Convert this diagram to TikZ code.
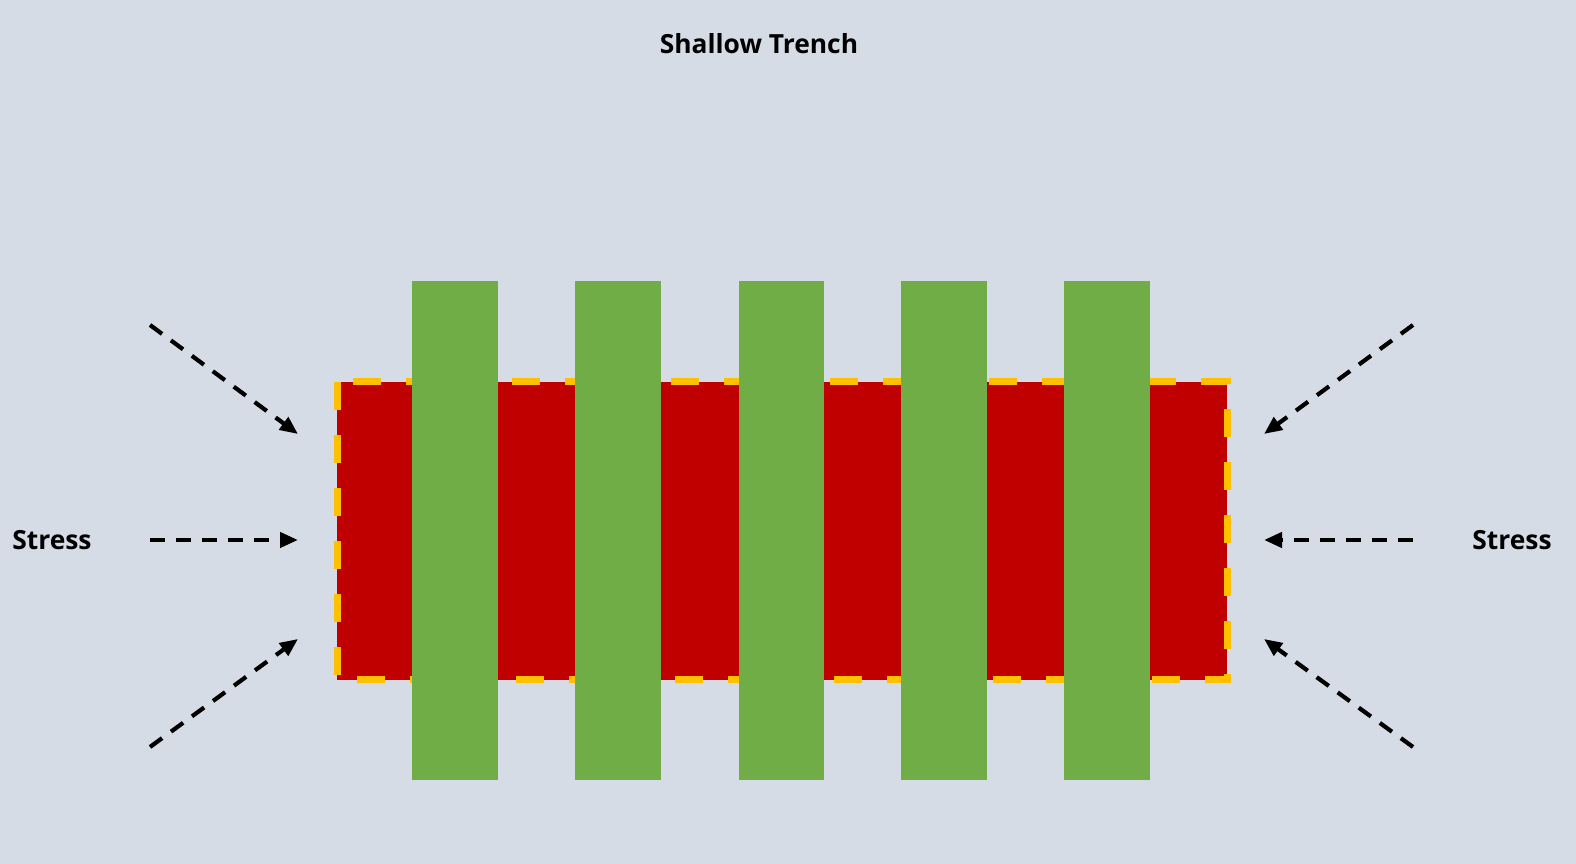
\documentclass[tikz,border=0pt]{standalone}
\usepackage{fontspec}
\setmainfont{Open Sans}
\usetikzlibrary{arrows.meta}

\definecolor{bgblue}{HTML}{D6DCE5}
\definecolor{chanred}{HTML}{C00000}
\definecolor{gategreen}{HTML}{70AD47}
\definecolor{trenchgold}{HTML}{FFC000}

\tikzset{
  label/.style={font=\bfseries\fontsize{7.5}{9}\selectfont, inner sep=0pt},
  push/.style={-{Triangle[length=0.18cm,width=0.15cm]}, line width=0.042cm, dash pattern=on 0.15cm off 0.11cm},
  gate/.style={fill=gategreen},
}

\begin{document}
\begin{tikzpicture}
                \fill[bgblue] (0,0) rectangle (15.76,8.64);
                \useasboundingbox (0,0) rectangle (15.76,8.64);
                % Nodes
                \node[label] (title) at (7.59,8.20) {Shallow Trench};
                \node[label] (stressL) at (0.52,3.24) {Stress};
                \node[label] (stressR) at (15.12,3.24) {Stress};
                % Channel and trench
                \fill[chanred] (3.37,1.84) rectangle (12.27,4.82);
                \draw[trenchgold, line width=0.07cm, dash pattern=on 0.28cm off 0.25cm] (3.37,4.82) -- (3.37,1.84) -- (12.27,1.84) -- (12.27,4.82) -- cycle;
                % Gates
                \fill[gate] (4.12,0.84) rectangle (4.98,5.83);
                \fill[gate] (5.75,0.84) rectangle (6.61,5.83);
                \fill[gate] (7.39,0.84) rectangle (8.24,5.83);
                \fill[gate] (9.01,0.84) rectangle (9.87,5.83);
                \fill[gate] (10.64,0.84) rectangle (11.50,5.83);
                % Arrow ends
                \coordinate (lt0) at (1.50,5.39);
                \coordinate (lt1) at (2.98,4.30);
                \coordinate (lm0) at (1.50,3.24);
                \coordinate (lm1) at (2.98,3.24);
                \coordinate (lb0) at (1.50,1.17);
                \coordinate (lb1) at (2.98,2.25);
                \coordinate (rt0) at (14.13,5.39);
                \coordinate (rt1) at (12.64,4.30);
                \coordinate (rm0) at (14.13,3.24);
                \coordinate (rm1) at (12.64,3.24);
                \coordinate (rb0) at (14.13,1.17);
                \coordinate (rb1) at (12.64,2.25);
                % Edges
                \draw[push] (lt0) -- (lt1);
                \draw[push] (lm0) -- (lm1);
                \draw[push] (lb0) -- (lb1);
                \draw[push] (rt0) -- (rt1);
                \draw[push] (rm0) -- (rm1);
                \draw[push] (rb0) -- (rb1);
            \end{tikzpicture}
\end{document}
